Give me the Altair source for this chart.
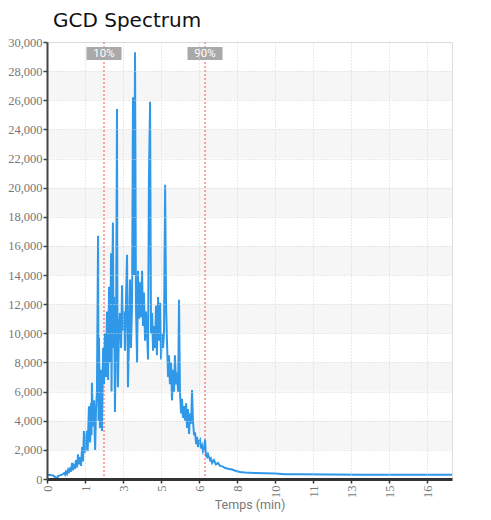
import altair as alt
import pandas as pd

# Chromatogram samples (time in min, intensity)
times = [0.00, 0.13, 0.26, 0.35, 0.44, 0.48, 0.57, 0.66, 0.75, 0.79, 0.83, 0.88, 0.92, 0.96,
         1.01, 1.05, 1.10, 1.14, 1.18, 1.23, 1.27, 1.32, 1.36, 1.40, 1.45, 1.49, 1.54, 1.58,
         1.62, 1.67, 1.71, 1.75, 1.78, 1.80, 1.84, 1.89, 1.93, 1.95, 1.97, 2.02, 2.06, 2.11,
         2.15, 2.19, 2.24, 2.26, 2.28, 2.32, 2.37, 2.41, 2.46, 2.50, 2.54, 2.59, 2.63, 2.68,
         2.72, 2.76, 2.81, 2.83, 2.85, 2.89, 2.92, 2.94, 2.98, 3.03, 3.07, 3.09, 3.11, 3.16,
         3.20, 3.25, 3.29, 3.33, 3.38, 3.42, 3.46, 3.51, 3.55, 3.60, 3.64, 3.68, 3.73, 3.77,
         3.82, 3.86, 3.90, 3.95, 3.99, 4.04, 4.08, 4.12, 4.17, 4.21, 4.25, 4.30, 4.34, 4.39,
         4.43, 4.47, 4.52, 4.56, 4.61, 4.65, 4.69, 4.74, 4.78, 4.82, 4.87, 4.91, 4.96, 5.00,
         5.04, 5.09, 5.13, 5.18, 5.22, 5.26, 5.31, 5.35, 5.39, 5.44, 5.48, 5.53, 5.57, 5.61,
         5.66, 5.70, 5.75, 5.79, 5.83, 5.88, 5.92, 5.96, 6.01, 6.05, 6.10, 6.14, 6.18, 6.23,
         6.27, 6.32, 6.36, 6.40, 6.45, 6.49, 6.54, 6.58, 6.62, 6.67, 6.71, 6.75, 6.80, 6.84,
         6.89, 6.93, 6.97, 7.02, 7.06, 7.15, 7.19, 7.24, 7.32, 7.41, 7.50, 7.59, 7.72, 7.81,
         7.94, 8.11, 8.29, 8.46, 8.68, 9.12, 9.56, 10.00, 10.44, 11.10, 12.41, 13.73, 15.48,
         16.80, 17.76]
intensity = [300, 280, 250, 150, 0, 200, 250, 300, 400, 300, 500, 350, 600, 400,
             800, 500, 1100, 600, 900, 700, 1300, 800, 1700, 1000, 1500, 900, 2200, 1200,
             3300, 1800, 2600, 3300, 1900, 2800, 5000, 2500, 5200, 3000, 6600, 3600, 5400, 2000,
             4800, 6000, 16700, 4000, 9700, 3500, 7500, 3300, 9000, 6500, 10000, 7000, 11500, 6800,
             13200, 8000, 15500, 6000, 11000, 17600, 9000, 12500, 4600, 11000, 25400, 9500, 6300, 10500,
             11400, 9000, 13300, 10200, 11500, 8800, 12000, 15400, 6300, 10000, 13700, 9000, 12000, 26200,
             14000, 29300, 12000, 8000, 14300, 11000, 13500, 11100, 14300, 10500, 12800, 9500, 11500, 10000,
             8200, 20500, 25900, 10000, 11400, 8800, 10500, 9000, 11900, 8500, 12500, 9500, 12100, 8200,
             10000, 9000, 10000, 20200, 12000, 9500, 7000, 8500, 6500, 8000, 5400, 7500, 6000, 8500,
             6500, 7300, 6000, 12300, 6000, 4500, 5500, 4200, 5000, 4000, 5200, 3500, 4800, 3100,
             4500, 3800, 6100, 4000, 3000, 3200, 2400, 2900, 2200, 2600, 2700, 2100, 2300, 1900,
             2100, 2700, 1600, 1500, 1700, 1300, 1400, 1100, 1300, 1000, 1100, 900, 850, 750,
             700, 650, 550, 480, 450, 420, 400, 380, 330, 320, 310, 300, 300,
             300, 300]

marker_times = [2.50, 6.93]
marker_labels = ["10%", "90%"]

x_ticks = [0, 5 / 3, 10 / 3, 5, 20 / 3, 25 / 3, 10, 35 / 3, 40 / 3, 15, 50 / 3]
y_ticks = list(range(0, 30001, 2000))
band_starts = [2000, 6000, 10000, 14000, 18000, 22000, 26000]
band_ends = [4000, 8000, 12000, 16000, 20000, 24000, 28000]

df = pd.DataFrame({"t": times, "v": intensity})
markers = pd.DataFrame({"t": marker_times, "label": marker_labels})
bands = pd.DataFrame({"y0": band_starts, "y1": band_ends})

W, H = 405, 437
xscale = alt.Scale(domain=[0, 17.76], nice=False, zero=False)
yscale = alt.Scale(domain=[0, 30000], nice=False)
LABEL_FONT = "Liberation Sans Narrow"
TITLE_FONT = "Roboto"

y_axis = alt.Axis(
    values=y_ticks,
    format=",.0f",
    labelFont=LABEL_FONT,
    labelFontSize=12.5,
    labelColor="#777777",
    labelPadding=1,
    domainColor="#444444",
    domainWidth=2,
    tickColor="#444444",
    tickSize=4,
    tickWidth=1.5,
    gridColor="#d4d4d4",
    gridDash=[1, 2],
    zindex=1,
)

x_axis = alt.Axis(
    values=x_ticks,
    labelExpr="floor(datum.value + 1e-9)",
    labelAngle=270,
    labelFont=LABEL_FONT,
    labelFontSize=12.5,
    labelColor="#777777",
    labelPadding=2,
    titleFont=TITLE_FONT,
    titleFontSize=12.5,
    titleFontWeight="normal",
    titleColor="#777777",
    titlePadding=1,
    domainColor="#333333",
    domainWidth=3,
    tickColor="#333333",
    tickSize=4,
    tickWidth=1.5,
    gridColor="#d4d4d4",
    gridDash=[1, 2],
    zindex=1,
)

band_layer = alt.Chart(bands).mark_rect(color="#f6f6f6").encode(
    y=alt.Y("y0:Q", scale=yscale, title=None, axis=y_axis),
    y2="y1:Q",
    x=alt.value(0),
    x2=alt.value(W),
)

line_layer = alt.Chart(df).mark_line(color="#2f98e8", strokeWidth=2).encode(
    x=alt.X("t:Q", scale=xscale, title="Temps (min)", axis=x_axis),
    y=alt.Y("v:Q", scale=yscale, title=None, axis=y_axis),
)

rule_layer = alt.Chart(markers).mark_rule(color="#ff4d4d", strokeDash=[2, 2], strokeWidth=1).encode(
    x=alt.X("t:Q", scale=xscale, title="Temps (min)", axis=x_axis),
    y=alt.value(0),
    y2=alt.value(H),
)

box_layer = alt.Chart(markers).mark_point(
    shape="M-1,-0.37H1V0.37H-1Z", filled=True, size=1225, color="#a9a9a9", opacity=1
).encode(
    x=alt.X("t:Q", scale=xscale, title="Temps (min)", axis=x_axis),
    y=alt.value(11.5),
)

text_layer = alt.Chart(markers).mark_text(
    color="white", font=TITLE_FONT, fontSize=11.5, baseline="middle", align="center"
).encode(
    x=alt.X("t:Q", scale=xscale, title="Temps (min)", axis=x_axis),
    y=alt.value(12),
    text="label:N",
)

chart = alt.layer(band_layer, rule_layer, line_layer, box_layer, text_layer).properties(
    width=W,
    height=H,
    autosize=alt.AutoSizeParams(type="none"),
    padding={"left": 39, "top": 34, "right": 31, "bottom": 40},
    title=alt.TitleParams(
        "GCD Spectrum",
        anchor="start",
        frame="group",
        font="DejaVu Sans",
        fontSize=20,
        fontWeight="normal",
        color="#111111",
        offset=5,
        dx=6,
    ),
).configure_view(stroke=None).configure(background="white")

chart.save("out.html", embed_options={"renderer": "svg", "actions": False})
